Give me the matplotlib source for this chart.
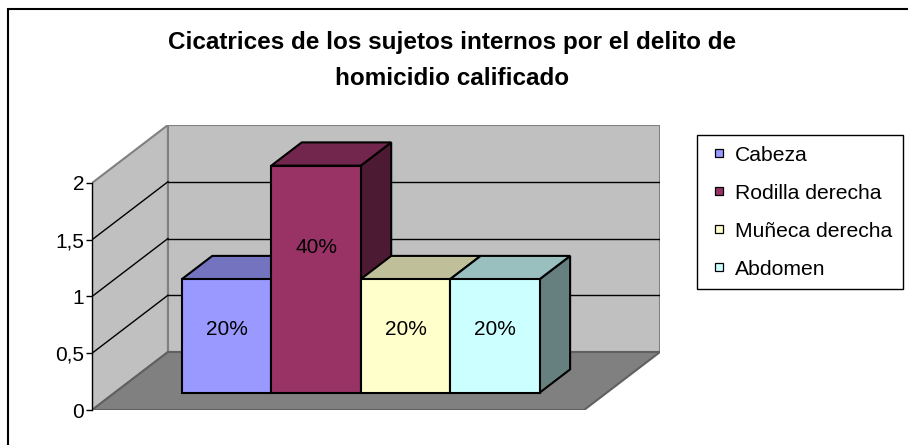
import numpy as np
import matplotlib
matplotlib.use("Agg")
import matplotlib.pyplot as plt
from matplotlib.patches import Polygon, Rectangle
from matplotlib.lines import Line2D
from matplotlib import rcParams

rcParams['font.family'] = ['Liberation Sans', 'DejaVu Sans']

# data
title = "Cicatrices de los sujetos internos por el delito de\nhomicidio calificado"
series = ["Cabeza", "Rodilla derecha", "Muñeca derecha", "Abdomen"]
values = [1, 2, 1, 1]
labels = ["20%", "40%", "20%", "20%"]
colors = ["#9999FF", "#993366", "#FFFFCC", "#CCFFFF"]
yticks = [0, 0.5, 1, 1.5, 2]
ytick_labels = ["0", "0,5", "1", "1,5", "2"]

# 3d box geometry (category units / value units)
W = 5.5                 # floor width
DX, DY = 0.849, 0.511   # depth vector
D0, D1 = 0.3, 0.7       # bar depth range
YMAX = 2
WALL = "#C0C0C0"
FLOOR = "#808080"
EDGE = "#808080"


def shade(c, f):
    r, g, b = matplotlib.colors.to_rgb(c)
    return (r * f, g * f, b * f)


fig = plt.figure(figsize=(9.08, 4.45), dpi=100)
ax = fig.add_axes([92 / 908, 35 / 445, 568 / 908, 285 / 445])
ax.set_xlim(0, W + DX)
ax.set_ylim(0, YMAX + DY)

# walls and floor
left_wall = [(0, 0), (0, YMAX), (DX, YMAX + DY), (DX, DY)]
back_wall = [(DX, DY), (DX, YMAX + DY), (W + DX, YMAX + DY), (W + DX, DY)]
floor = [(0, 0), (W, 0), (W + DX, DY), (DX, DY)]
ax.add_patch(Polygon(left_wall, closed=True, facecolor=WALL, edgecolor=EDGE, lw=1.5, zorder=1))
ax.add_patch(Polygon(back_wall, closed=True, facecolor=WALL, edgecolor=EDGE, lw=1.5, zorder=1))
ax.add_patch(Polygon(floor, closed=True, facecolor=FLOOR, edgecolor="#606060", lw=1.5, zorder=1.5))

# gridlines
for v in yticks[1:-1]:
    ax.plot([0, DX], [v, v + DY], color="black", lw=1, zorder=2)
    ax.plot([DX, W + DX], [v + DY, v + DY], color="black", lw=1, zorder=2)

# bars
x_start = (W - len(values)) / 2
for i, (v, c, lab) in enumerate(zip(values, colors, labels)):
    x0 = x_start + i
    x1 = x0 + 1
    ox0, oy0 = D0 * DX, D0 * DY
    ox1, oy1 = D1 * DX, D1 * DY
    front = [(x0 + ox0, oy0), (x1 + ox0, oy0), (x1 + ox0, v + oy0), (x0 + ox0, v + oy0)]
    top = [(x0 + ox0, v + oy0), (x1 + ox0, v + oy0), (x1 + ox1, v + oy1), (x0 + ox1, v + oy1)]
    side = [(x1 + ox0, oy0), (x1 + ox1, oy1), (x1 + ox1, v + oy1), (x1 + ox0, v + oy0)]
    ax.add_patch(Polygon(side, closed=True, facecolor=shade(c, 0.5), edgecolor="black", lw=1.5, zorder=3))
    ax.add_patch(Polygon(top, closed=True, facecolor=shade(c, 0.75), edgecolor="black", lw=1.5, zorder=3))
    ax.add_patch(Polygon(front, closed=True, facecolor=c, edgecolor="black", lw=1.5, zorder=3))
    ax.text((x0 + x1) / 2 + ox0, 0.72 * v - 0.16 + oy0, lab, ha="center", va="center",
            fontsize=15, zorder=4)

# axis
for s in ["top", "right", "bottom"]:
    ax.spines[s].set_visible(False)
ax.spines["left"].set_bounds(0, YMAX)
ax.spines["left"].set_linewidth(1)
ax.spines["left"].set_zorder(5)
ax.set_xticks([])
ax.set_yticks(yticks)
ax.set_yticklabels(ytick_labels)
ax.tick_params(axis="y", length=4.5, width=1, pad=1, labelsize=15)
ax.patch.set_visible(False)

# title
fig.text(0.498, 1 - 31 / 445, title, ha="center", va="top", fontsize=17.5,
         fontweight="bold", linespacing=1.7)

# legend
handles = [Line2D([], [], marker="s", linestyle="none", markersize=6.4,
                  markerfacecolor=c, markeredgecolor="black", markeredgewidth=0.9)
           for c in colors]
leg = ax.legend(handles, series, loc="upper left",
                bbox_to_anchor=(697 / 908, 1 - 135 / 445), bbox_transform=fig.transFigure,
                borderaxespad=0, fontsize=15.2, frameon=True, fancybox=False,
                edgecolor="black", framealpha=1, borderpad=0.5, labelspacing=0.9,
                handlelength=1.09, handletextpad=0.21)
leg.get_frame().set_linewidth(1)

# outer border
fig.patches.append(Rectangle((8 / 908, -0.1), 1.2, 1.1 - 9 / 445, transform=fig.transFigure,
                             fill=False, edgecolor="black", lw=1.5))

fig.savefig("out.png", dpi=100)
